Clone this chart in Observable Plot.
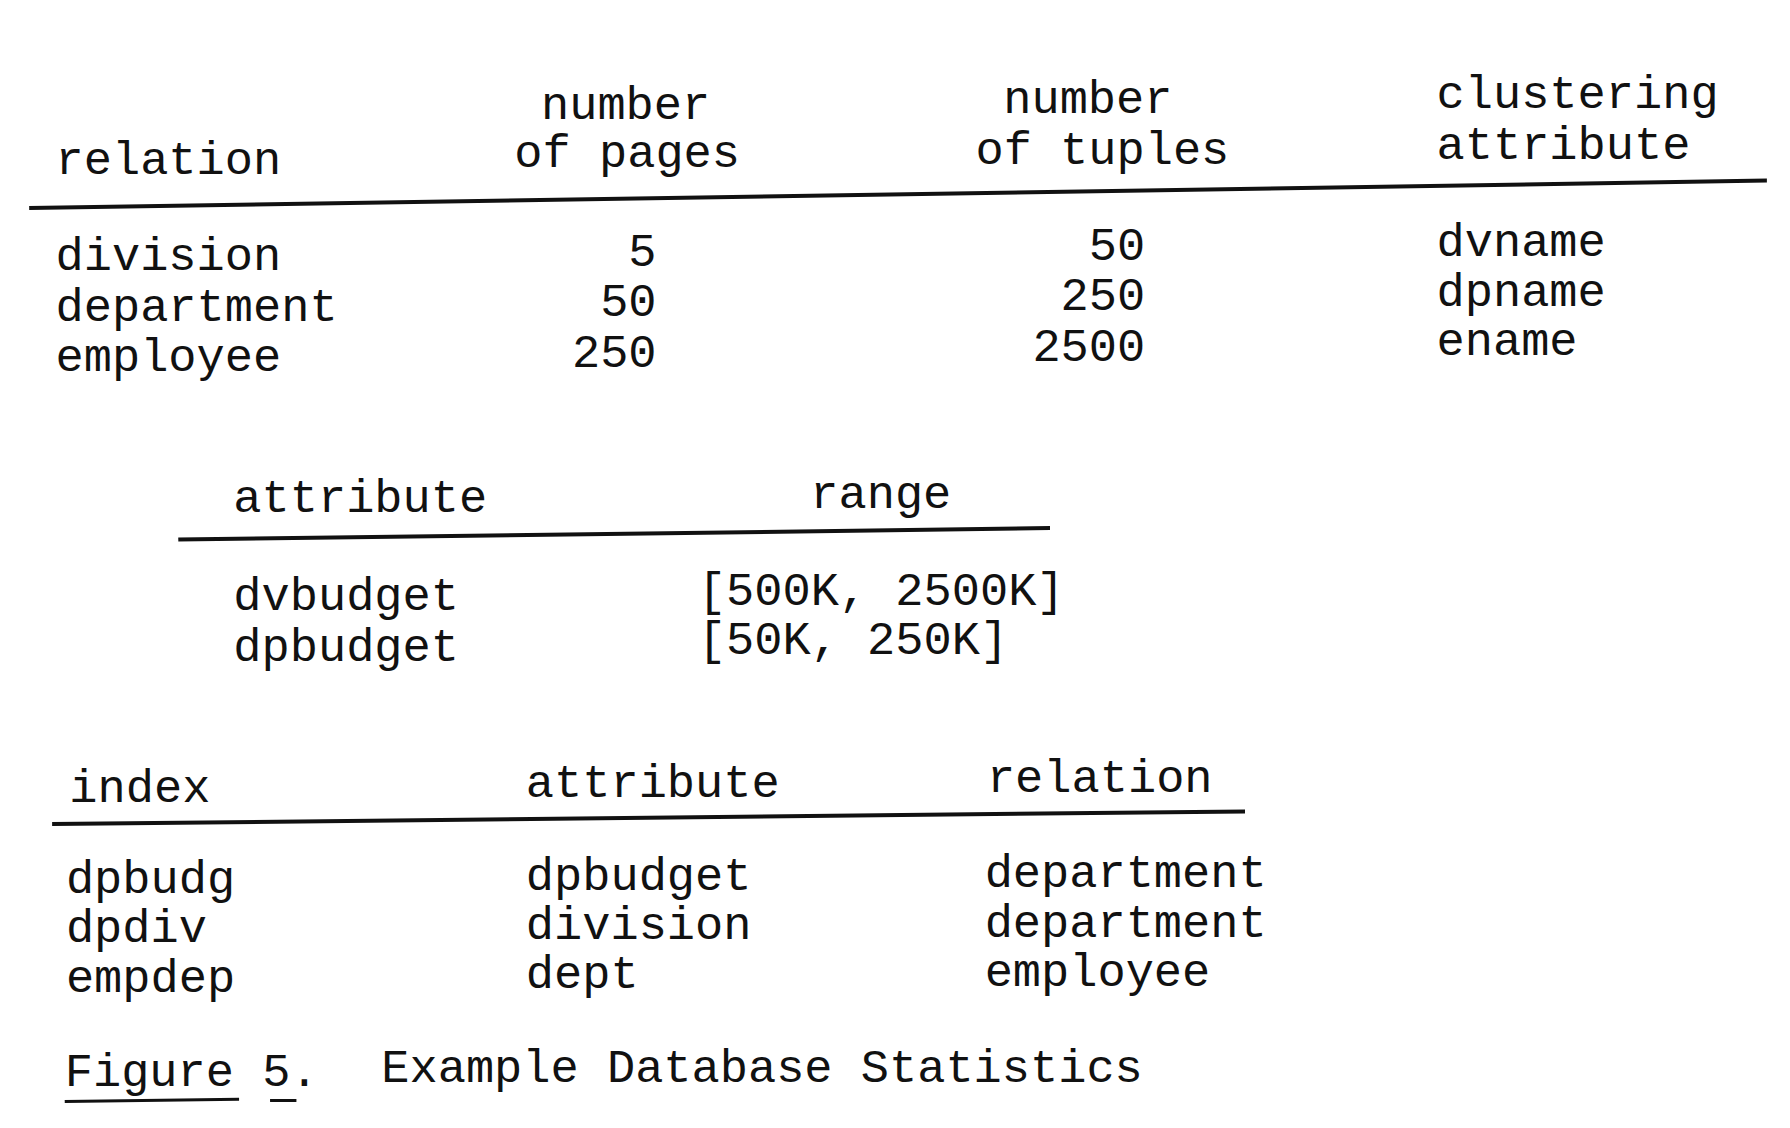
<!DOCTYPE html>
<html>
<head>
<meta charset="utf-8">
<script src="https://cdn.jsdelivr.net/npm/d3@7"></script>
<script src="https://cdn.jsdelivr.net/npm/@observablehq/plot@0.6"></script>
<style>
  body { margin: 0; background: #fff; }
</style>
</head>
<body>
<div id="chart"></div>
<script>
// table 1: relations
const relations = ["division", "department", "employee"];
const pages = ["5", "50", "250"];
const tuples = ["50", "250", "2500"];
const clustering = ["dvname", "dpname", "ename"];

// table 2: attribute ranges
const rangeAttrs = ["dvbudget", "dpbudget"];
const ranges = ["[500K, 2500K]", "[50K, 250K]"];

// table 3: indexes
const indexes = ["dpbudg", "dpdiv", "empdep"];
const indexAttrs = ["dpbudget", "division", "dept"];
const indexRelations = ["department", "department", "employee"];

// layout (measured in the reference at 0.872 scale, scaled up by S)
const S = 1.147;
const cells = [];
const put = (text, x, y, anchor = "start") => cells.push({text, x: x * S, y: y * S, anchor});

put("relation", 48, 138);
put("number", 545, 90, "middle");
put("of pages", 448, 132);
put("number", 948, 85, "middle");
put("of tuples", 850, 129);
put("clustering", 1252, 81);
put("attribute", 1252, 125);
relations.forEach((d, i) => put(d, 48, 222 + i * 44));
pages.forEach((d, i) => put(d, 572, 218 + i * 44, "end"));
tuples.forEach((d, i) => put(d, 998, 213 + i * 44, "end"));
clustering.forEach((d, i) => put(d, 1252, 210 + i * 43));

put("attribute", 203, 433);
put("range", 706, 429);
rangeAttrs.forEach((d, i) => put(d, 203, 518 + i * 45));
ranges.forEach((d, i) => put(d, 608, 514 + i * 43));

put("index", 60, 686);
put("attribute", 458, 681);
put("relation", 860, 677);
indexes.forEach((d, i) => put(d, 57, 765 + i * 43));
indexAttrs.forEach((d, i) => put(d, 458, 762 + i * 43));
indexRelations.forEach((d, i) => put(d, 858, 760 + i * 43));

put("Figure 5.", 56, 933);
put("Example Database Statistics", 332, 930);

const rules = [
  {x1: 25, y1: 181, x2: 1540, y2: 157, w: 4},
  {x1: 155, y1: 470, x2: 915, y2: 460, w: 4},
  {x1: 45, y1: 718, x2: 1085, y2: 707, w: 4},
  {x1: 56, y1: 960, x2: 208, y2: 958, w: 3},
  {x1: 235, y1: 959, x2: 258, y2: 959, w: 3}
].map(r => ({...r, x1: r.x1 * S, y1: r.y1 * S, x2: r.x2 * S, y2: r.y2 * S}));

const plot = Plot.plot({
  width: 1790,
  height: 1128,
  margin: 0,
  x: {domain: [0, 1790], range: [0, 1790], axis: null},
  y: {domain: [0, 1128], range: [0, 1128], axis: null},
  style: {background: "#fff", color: "#111"},
  marks: [
    Plot.link(rules, {x1: "x1", y1: "y1", x2: "x2", y2: "y2", stroke: "#111", strokeWidth: "w"}),
    ...["start", "middle", "end"].map(a =>
      Plot.text(cells.filter(c => c.anchor === a), {
        x: "x", y: "y", text: "text",
        textAnchor: a, lineAnchor: "middle",
        fontFamily: "Liberation Mono", fontSize: 47, fill: "#111"
      }))
  ]
});

document.querySelector("#chart").append(plot);
</script>
</body>
</html>
